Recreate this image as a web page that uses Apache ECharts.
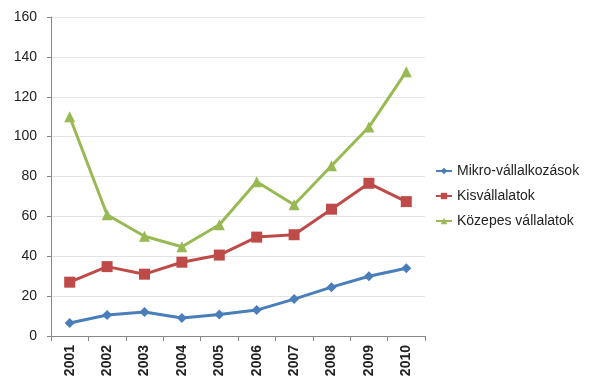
<!DOCTYPE html>
<html>
<head>
<meta charset="utf-8">
<script src="https://cdn.jsdelivr.net/npm/echarts@6/dist/echarts.min.js"></script>
<style>
  html, body { margin: 0; padding: 0; background: #fff; }
  #chart { width: 589px; height: 376px; }
</style>
</head>
<body>
<div id="chart"></div>
<script>
// Years on the category axis
var years = ['2001', '2002', '2003', '2004', '2005', '2006', '2007', '2008', '2009', '2010'];

// Series values
var mikro = [6.5, 10.5, 12, 9, 10.8, 13, 18.5, 24.5, 30, 34];
var kis = [27, 34.8, 31, 37, 40.6, 49.6, 50.8, 63.6, 76.6, 67.4];
var kozepes = [110, 60.8, 50, 44.8, 55.8, 77.4, 65.8, 85.4, 104.8, 132.6];

// Series names
var names = ['Mikro-vállalkozások', 'Kisvállalatok', 'Közepes vállalatok'];

var font = 'Liberation Sans, Arial, sans-serif';

var chart = echarts.init(document.getElementById('chart'), null, { renderer: 'canvas' });

function lineSeries(name, data, color, symbol, size) {
  return {
    name: name,
    type: 'line',
    data: data,
    symbol: symbol,
    symbolSize: size,
    showAllSymbol: true,
    lineStyle: { color: color, width: 3 },
    itemStyle: { color: color },
    emphasis: { disabled: true },
    animation: false
  };
}

chart.setOption({
  animation: false,
  textStyle: { fontFamily: font },
  grid: { left: 51, top: 17, right: 164, bottom: 40, containLabel: false, outerBoundsMode: 'none' },
  legend: {
    orient: 'vertical',
    left: 435,
    top: 164,
    padding: 0,
    itemWidth: 16,
    itemHeight: 8,
    itemGap: 11,
    textStyle: { fontSize: 14, color: '#222', fontFamily: font },
    data: names
  },
  xAxis: {
    type: 'category',
    data: years,
    boundaryGap: true,
    axisLine: { lineStyle: { color: '#878787', width: 1 } },
    axisTick: { show: true, length: 5, lineStyle: { color: '#878787' } },
    axisLabel: { rotate: 90, fontSize: 14, fontWeight: 'bold', color: '#222', margin: 9, fontFamily: font }
  },
  yAxis: {
    type: 'value',
    min: 0,
    max: 160,
    interval: 20,
    axisLine: { show: true, lineStyle: { color: '#878787', width: 1 } },
    axisTick: { show: true, length: 4, lineStyle: { color: '#878787' } },
    splitLine: { lineStyle: { color: '#e3e3e3', width: 1 } },
    axisLabel: { fontSize: 14, color: '#222', margin: 14, fontFamily: font }
  },
  series: [
    lineSeries(names[0], mikro, '#4a7ebb', 'diamond', 10),
    lineSeries(names[1], kis, '#be4b48', 'rect', 11),
    lineSeries(names[2], kozepes, '#98b954', 'triangle', 11)
  ]
});
</script>
</body>
</html>
